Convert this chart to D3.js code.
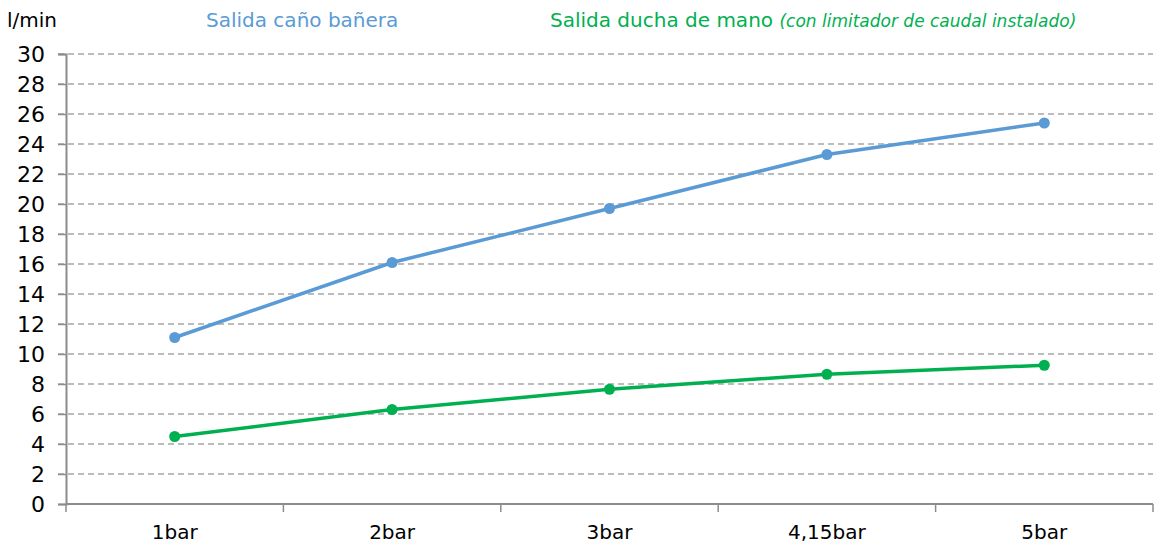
<!DOCTYPE html>
<html>
<head>
<meta charset="utf-8">
<script src="https://cdn.jsdelivr.net/npm/d3@7"></script>
<style>
  body { margin: 0; background: #fff; }
  svg text { font-family: "DejaVu Sans", "Noto Sans", sans-serif; }
</style>
</head>
<body>
<div id="chart"></div>
<script>
// chart data
var categories = ["1bar", "2bar", "3bar", "4,15bar", "5bar"];
var bathSpout = [11.1, 16.1, 19.7, 23.3, 25.4];
var handShower = [4.5, 6.3, 7.65, 8.65, 9.25];
var yTicks = [0, 2, 4, 6, 8, 10, 12, 14, 16, 18, 20, 22, 24, 26, 28, 30];

var svgWidth = 1155, svgHeight = 545;
var margin = { top: 54, right: 2, bottom: 41, left: 66 };
var width = svgWidth - margin.left - margin.right;
var height = svgHeight - margin.top - margin.bottom;

var svg = d3.select("#chart").append("svg")
  .attr("width", svgWidth)
  .attr("height", svgHeight);

var chartGroup = svg.append("g")
  .attr("transform", `translate(${margin.left}, ${margin.top})`);

var xScale = d3.scaleBand().domain(categories).range([0, width]);
var yScale = d3.scaleLinear().domain([0, 30]).range([height, 0]);

// gridlines
chartGroup.selectAll(".grid")
  .data(yTicks.filter(d => d > 0))
  .enter().append("line")
  .attr("x1", -8).attr("x2", width)
  .attr("y1", d => yScale(d)).attr("y2", d => yScale(d))
  .attr("stroke", "#a6a6a6")
  .attr("stroke-width", 1.5)
  .attr("stroke-dasharray", "6,4");

// y axis
var leftAxis = d3.axisLeft(yScale).tickValues(yTicks).tickSize(8).tickPadding(13);
var yAxis = chartGroup.append("g").call(leftAxis);
yAxis.select(".domain").attr("stroke", "#8c8c8c").attr("stroke-width", 2);
yAxis.selectAll(".tick line").attr("stroke", "#8c8c8c").attr("stroke-width", 1.5);
yAxis.selectAll(".tick text")
  .attr("font-size", 22).attr("fill", "#000")
  .style("font-family", "'DejaVu Sans', sans-serif");

// x axis
var xAxis = chartGroup.append("g").attr("transform", `translate(0, ${height})`);
xAxis.append("line")
  .attr("x1", 0).attr("x2", width)
  .attr("stroke", "#8c8c8c").attr("stroke-width", 2);
xAxis.selectAll(".xtick")
  .data(categories.concat(["end"]))
  .enter().append("line")
  .attr("x1", (d, i) => i * xScale.bandwidth())
  .attr("x2", (d, i) => i * xScale.bandwidth())
  .attr("y1", 0).attr("y2", 8)
  .attr("stroke", "#8c8c8c").attr("stroke-width", 1.5);
xAxis.selectAll(".xlabel")
  .data(categories)
  .enter().append("text")
  .attr("x", d => xScale(d) + xScale.bandwidth() / 2)
  .attr("y", 35)
  .attr("text-anchor", "middle")
  .attr("font-size", 20)
  .attr("fill", "#000")
  .text(d => d);

// lines
var series = [
  { values: bathSpout, color: "#5b9bd5" },
  { values: handShower, color: "#00b050" }
];
var line = d3.line()
  .x((d, i) => xScale(categories[i]) + xScale.bandwidth() / 2)
  .y(d => yScale(d));

series.forEach(function(s) {
  chartGroup.append("path")
    .datum(s.values)
    .attr("d", line)
    .attr("fill", "none")
    .attr("stroke", s.color)
    .attr("stroke-width", 3.5);
  chartGroup.selectAll(null)
    .data(s.values)
    .enter().append("circle")
    .attr("cx", (d, i) => xScale(categories[i]) + xScale.bandwidth() / 2)
    .attr("cy", d => yScale(d))
    .attr("r", 5.5)
    .attr("fill", s.color);
});

// unit label and legend titles
svg.append("text")
  .attr("x", 7).attr("y", 27)
  .attr("font-size", 20).attr("fill", "#000")
  .text("l/min");

svg.append("text")
  .attr("x", 206).attr("y", 27)
  .attr("font-size", 20).attr("fill", "#5b9bd5")
  .text("Salida caño bañera");

var green = svg.append("text")
  .attr("x", 550).attr("y", 27)
  .attr("font-size", 20).attr("fill", "#00b050");
green.append("tspan").text("Salida ducha de mano ");
green.append("tspan")
  .attr("font-size", 17).attr("font-style", "italic")
  .text("(con limitador de caudal instalado)");
</script>
</body>
</html>
